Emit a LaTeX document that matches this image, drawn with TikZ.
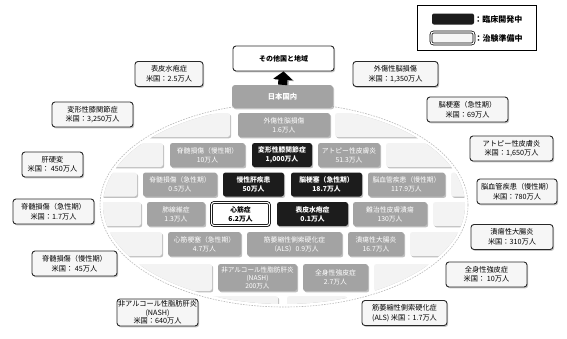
\documentclass[tikz,border=0pt]{standalone}
\usepackage{fontspec}
\setmainfont{Noto Sans CJK JP}
\usetikzlibrary{arrows.meta, positioning, shadows}
\definecolor{lightBrick}{RGB}{243,243,243}
\definecolor{grayBrick}{RGB}{163,163,163}
\definecolor{blackBrick}{RGB}{28,28,28}
\definecolor{labelFill}{RGB}{246,246,246}
\definecolor{labelLine}{RGB}{40,40,40}
\definecolor{domeLine}{RGB}{185,185,185}
\newcommand{\brickfont}{\fontsize{6.8}{9}\selectfont}
\newcommand{\labelfont}{\fontsize{7.2}{9.5}\selectfont}
\newcommand{\legendfont}{\fontsize{8}{9}\selectfont}

\begin{document}
\begin{tikzpicture}[x=1pt, y=-1pt,
    brick/.style={rectangle, rounded corners=2.5pt, minimum height=24pt, inner sep=0pt, align=center, font=\brickfont,
        drop shadow={shadow xshift=1.2pt, shadow yshift=-1.4pt, fill=black!50}},
    lightbrick/.style={brick, fill=lightBrick},
    graybrick/.style={brick, fill=grayBrick, text=white},
    blackbrick/.style={brick, fill=blackBrick, text=white, font=\brickfont\bfseries},
    trialbrick/.style={brick, fill=white, draw=black, double=white, double distance=1.1pt, line width=0.75pt, font=\brickfont\bfseries},
    usbox/.style={rectangle, rounded corners=3pt, draw=labelLine, line width=0.9pt, fill=labelFill, minimum height=25pt, inner sep=0pt, align=center, font=\labelfont,
        drop shadow={shadow xshift=1.2pt, shadow yshift=-1.4pt, fill=black!45}},
    >=Latex
]
\useasboundingbox (0,0) rectangle (567,338);
\fill[white] (0,0) rectangle (567,338);

\begin{scope}
\clip (284,205) ellipse [x radius=181, y radius=99];
\node[lightbrick, minimum width=130pt] (l11) at (165,125) {};
\node[graybrick, minimum width=92pt] (tbi) at (284,125) {外傷性脳損傷\\1.6万人};
\node[lightbrick, minimum width=135pt] (l12) at (402.5,125) {};

\node[lightbrick, minimum width=103pt] (l21) at (111.5,155) {};
\node[graybrick, minimum width=75pt] (scic) at (207.5,155) {脊髄損傷（慢性期）\\10万人};
\node[blackbrick, minimum width=60pt] (oa) at (282,155) {変形性膝関節症\\1,000万人};
\node[graybrick, minimum width=62pt] (ad) at (349,155) {アトピー性皮膚炎\\51.3万人};
\node[lightbrick, minimum width=114pt] (l22) at (443,155) {};

\node[lightbrick, minimum width=97pt] (l31) at (88.5,184.5) {};
\node[graybrick, minimum width=74pt] (scia) at (180,184.5) {脊髄損傷（急性期）\\0.5万人};
\node[blackbrick, minimum width=61pt] (cld) at (253.5,184.5) {慢性肝疾患\\50万人};
\node[blackbrick, minimum width=71pt] (stroke) at (326.5,184.5) {脳梗塞（急性期）\\18.7万人};
\node[graybrick, minimum width=77pt] (cvd) at (406.5,184.5) {脳血管疾患（慢性期）\\117.9万人};
\node[lightbrick, minimum width=69pt] (l32) at (485.5,184.5) {};

\node[lightbrick, minimum width=101pt] (l41) at (90.5,214) {};
\node[graybrick, minimum width=58pt] (ipf) at (176,214) {肺線維症\\1.3万人};
\node[trialbrick, minimum width=58pt, minimum height=23pt] (cm) at (240.5,214) {心筋症\\6.2万人};
\node[blackbrick, minimum width=71pt] (ebs) at (312.5,214) {表皮水疱症\\0.1万人};
\node[graybrick, minimum width=74pt] (ulcer) at (390,214) {難治性皮膚潰瘍\\130万人};
\node[lightbrick, minimum width=87pt] (l42) at (476.5,214) {};

\node[lightbrick, minimum width=122pt] (l51) at (101,244) {};
\node[graybrick, minimum width=73pt] (mi) at (204.5,244) {心筋梗塞（急性期）\\4.7万人};
\node[graybrick, minimum width=95pt] (als) at (294.5,244) {筋萎縮性側索硬化症\\（ALS）0.9万人};
\node[graybrick, minimum width=56pt] (uc) at (376,244) {潰瘍性大腸炎\\16.7万人};
\node[lightbrick, minimum width=110pt] (l52) at (465,244) {};

\node[lightbrick, minimum width=152pt, minimum height=27pt] (l61) at (136,277.5) {};
\node[graybrick, minimum width=79pt, minimum height=27pt, font=\fontsize{6.6}{8}\selectfont] (nash) at (257.5,277.5) {非アルコール性脂肪肝炎\\(NASH)\\200万人};
\node[graybrick, minimum width=65pt, minimum height=27pt] (ssc) at (335.5,277.5) {全身性強皮症\\2.7万人};
\node[lightbrick, minimum width=126pt, minimum height=27pt] (l62) at (437,277.5) {};

\node[lightbrick, minimum width=178pt] (l71) at (189,308) {};
\node[lightbrick, minimum width=60pt] (l72) at (317,308) {};
\node[lightbrick, minimum width=127pt] (l73) at (416.5,308) {};
\end{scope}

\draw[domeLine, line width=0.6pt, dash pattern=on 1.6pt off 1.2pt] (284,205) ellipse [x radius=184, y radius=102];

\node[rectangle, rounded corners=3pt, fill=grayBrick, text=white, minimum width=101pt, minimum height=23pt, inner sep=0pt,
    font=\fontsize{7.3}{9}\selectfont\bfseries, drop shadow={shadow xshift=1.2pt, shadow yshift=-1.4pt, fill=black!45}] (japan) at (282.5,96.5) {日本国内};
\node[usbox, minimum width=101pt, fill=white, font=\fontsize{7}{9}\selectfont\bfseries] (other) at (283.5,58.5) {その他国と地域};
\draw[black!40, line width=9pt, -{Triangle[width=19pt, length=8pt]}, transform canvas={xshift=1.4pt, yshift=-1pt}] (japan.north) -- (other.south);
\draw[black, line width=9pt, -{Triangle[width=19pt, length=8pt]}] (japan.north) -- (other.south);

\node[usbox, minimum width=68pt] (usEbs) at (169,74) {表皮水疱症\\米国：2.5万人};
\node[usbox, minimum width=81pt] (usOa) at (92.5,114.5) {変形性膝関節症\\米国：3,250万人};
\node[usbox, minimum width=85pt] (usTbi) at (395.5,74) {外傷性脳損傷\\米国：1,350万人};
\node[usbox, minimum width=81pt] (usStroke) at (467.5,109.5) {脳梗塞（急性期）\\米国：69万人};
\node[usbox, minimum width=83pt] (usAd) at (511.5,148.5) {アトピー性皮膚炎\\米国：1,650万人};
\node[usbox, minimum width=80pt] (usCvd) at (517,191.5) {脳血管疾患（慢性期）\\米国：780万人};
\node[usbox, minimum width=82pt] (usUc) at (512,237) {潰瘍性大腸炎\\米国：310万人};
\node[usbox, minimum width=81pt] (usSsc) at (486.5,274.5) {全身性強皮症\\米国： 10万人};
\node[usbox, minimum width=85pt] (usAls) at (404.5,313) {筋萎縮性側索硬化症\\(ALS) 米国：1.7万人};
\node[usbox, minimum width=61pt] (usLc) at (52.5,164.5) {肝硬変\\米国： 450万人};
\node[usbox, minimum width=81pt] (usSciA) at (53.5,211.5) {脊髄損傷（急性期）\\米国：1.7万人};
\node[usbox, minimum width=85pt] (usSciC) at (74.5,263.5) {脊髄損傷（慢性期）\\米国： 45万人};
\node[usbox, minimum width=81pt, minimum height=27pt, font=\fontsize{7.2}{8.6}\selectfont] (usNash) at (157.5,312.5) {非アルコール性脂肪肝炎\\(NASH)\\米国：640万人};

\node[rectangle, draw=black, line width=1pt, fill=white, minimum width=119pt, minimum height=45pt, inner sep=0pt] (legend) at (476.5,27.5) {};
\node[rectangle, rounded corners=2pt, fill=blackBrick, minimum width=42pt, minimum height=11pt, inner sep=0pt] (legDev) at (453,19) {};
\node[right=0pt of legDev, inner sep=0pt, font=\legendfont\bfseries] (legDevText) {：臨床開発中};
\node[rectangle, rounded corners=2.5pt, fill=labelFill, draw=black, double=white, double distance=1.1pt, line width=0.75pt,
    minimum width=43pt, minimum height=12pt, inner sep=0pt] (legTrial) at (452.5,38) {};
\node[right=0pt of legTrial, inner sep=0pt, font=\legendfont\bfseries] (legTrialText) {：治験準備中};
\end{tikzpicture}
\end{document}
